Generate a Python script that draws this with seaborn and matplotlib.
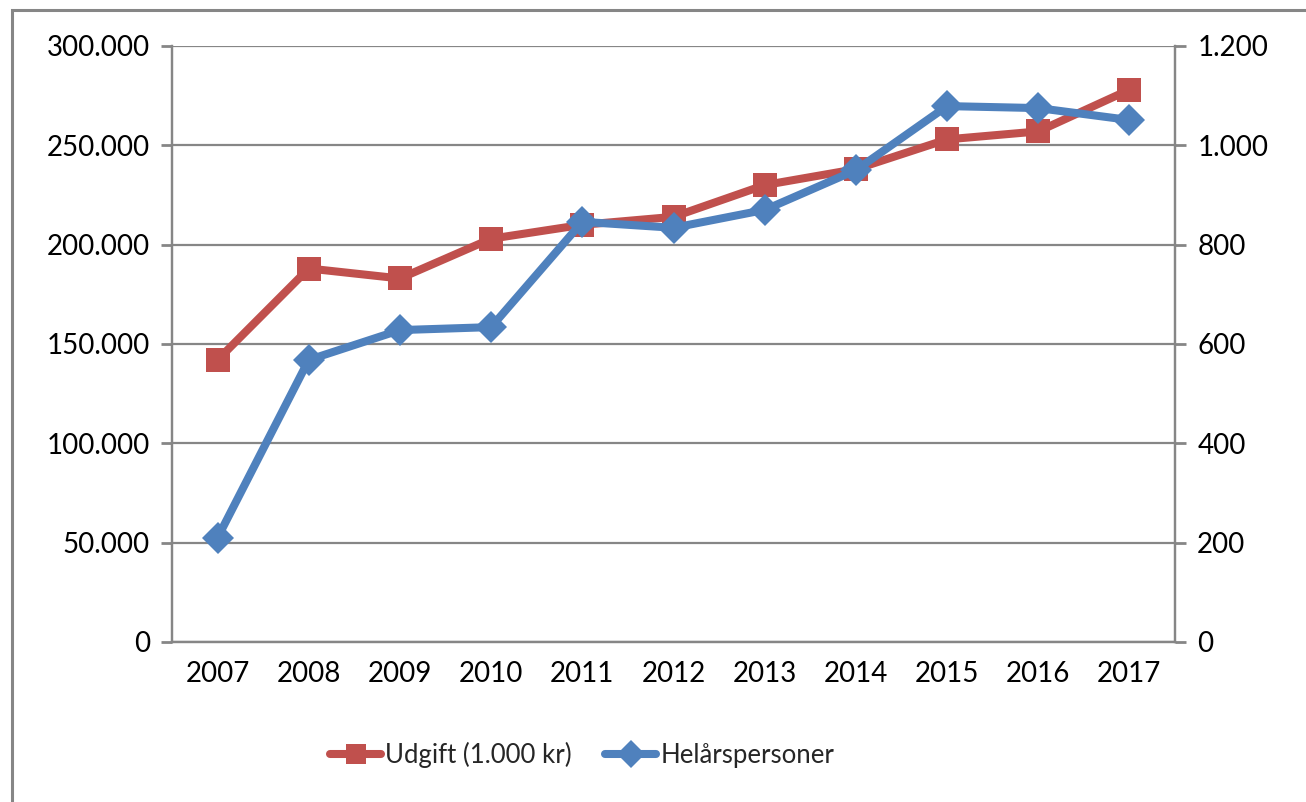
import matplotlib
matplotlib.use("Agg")
import matplotlib.pyplot as plt
import matplotlib.ticker as mticker
from matplotlib.patches import Rectangle
from matplotlib.lines import Line2D
import seaborn as sns
import pandas as pd

years = ["2007", "2008", "2009", "2010", "2011", "2012", "2013", "2014", "2015", "2016", "2017"]
udgift = [142000, 188000, 183000, 203000, 210000, 214000, 230000, 238000, 253000, 257000, 278000]
helaarspersoner = [210, 568, 628, 634, 846, 834, 870, 950, 1079, 1075, 1051]
label_udgift = "Udgift (1.000 kr)"
label_helaar = "Helårspersoner"

RED = "#C0504D"
BLUE = "#4F81BD"
GREY = "#868686"

sns.set_theme(style="white")
plt.rcParams["font.family"] = ["Lato", "DejaVu Sans"]

fig = plt.figure(figsize=(13.06, 8.02), dpi=100)
ax = fig.add_axes([172/1306, 1-642/802, (1175-172)/1306, (642-46)/802])
ax2 = ax.twinx()

df = pd.DataFrame({"pos": range(len(years)), "udgift": udgift, "helaar": helaarspersoner})

sns.lineplot(data=df, x="pos", y="udgift", ax=ax, color=RED, linewidth=5.8,
             marker="s", markersize=17, markeredgewidth=0, legend=False)
sns.lineplot(data=df, x="pos", y="helaar", ax=ax2, color=BLUE, linewidth=5.8,
             marker="D", markersize=16, markeredgewidth=0, legend=False)

fmt = mticker.FuncFormatter(lambda v, p: f"{int(v):,}".replace(",", "."))

ax.set_xlim(-0.5, len(years) - 0.5)
ax.set_ylim(0, 300000)
ax2.set_ylim(0, 1200)
ax.set_yticks(range(0, 300001, 50000))
ax2.set_yticks(range(0, 1201, 200))
ax.yaxis.set_major_formatter(fmt)
ax2.yaxis.set_major_formatter(fmt)

ax.set_xticks([i - 0.5 for i in range(len(years) + 1)])
ax.set_xticklabels([])
ax.set_xticks(range(len(years)), minor=True)
ax.set_xticklabels(years, minor=True)
ax.tick_params(axis="x", which="minor", length=0, pad=14, labelsize=20, labelcolor="black")
ax.tick_params(axis="x", which="major", length=8, width=2, color=GREY, direction="out")
ax.tick_params(axis="y", length=8, width=2, color=GREY, direction="out", labelsize=20, pad=8, labelcolor="black")
ax2.tick_params(axis="y", length=8, width=2, color=GREY, direction="out", labelsize=20, pad=8, labelcolor="black")

ax.set_xlabel("")
ax.set_ylabel("")
ax2.set_ylabel("")
ax2.set_xlabel("")

ax.grid(axis="y", color=GREY, linewidth=1.6)
ax.grid(axis="x", visible=False)
ax2.grid(False)
for a in (ax, ax2):
    a.spines["top"].set_visible(False)
    for s in ("left", "right", "bottom"):
        a.spines[s].set_color(GREY)
        a.spines[s].set_linewidth(1.6)
ax.set_axisbelow(True)

handles = [
    Line2D([], [], color=RED, linewidth=5.8, marker="s", markersize=15, markeredgewidth=0),
    Line2D([], [], color=BLUE, linewidth=5.8, marker="D", markersize=14, markeredgewidth=0),
]
fig.legend(handles, [label_udgift, label_helaar], loc="center", ncol=2, frameon=False,
           bbox_to_anchor=(582/1306, 1-755/802), fontsize=18.5, handlelength=2.0,
           handletextpad=0.15, columnspacing=1.3)

fig.patches.append(Rectangle((12/1306, -0.05), 1.2, 1-10/802+0.05, transform=fig.transFigure,
                             fill=False, edgecolor=GREY, linewidth=2.2))

fig.savefig("out.png", dpi=100)
